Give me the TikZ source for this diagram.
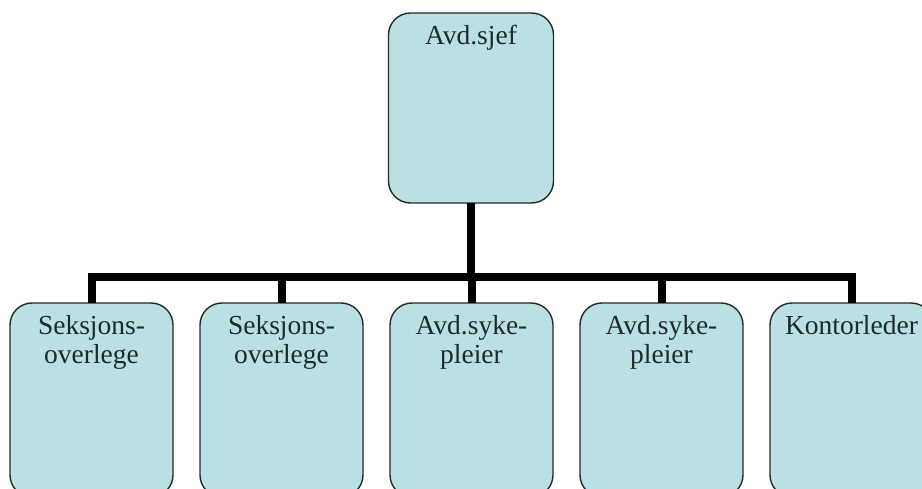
\documentclass[tikz,border=0pt]{standalone}
\usepackage{fontspec}
\setmainfont{Liberation Serif}
\usetikzlibrary{positioning}

\definecolor{boxfill}{HTML}{BAE0E4}
\definecolor{boxline}{HTML}{222A2C}
\definecolor{boxtext}{HTML}{1C2A30}

\tikzstyle{unit} = [rectangle, rounded corners=22pt, minimum width=163pt, minimum height=194pt, draw=boxline, line width=1.4pt, fill=boxfill, outer sep=0pt]
\tikzstyle{chief} = [unit, minimum width=165pt, minimum height=190pt]
\tikzstyle{title} = [anchor=north, inner sep=0pt, yshift=-12pt, align=center, text=boxtext, font=\fontsize{27.5}{29}\selectfont]
\tikzstyle{bus} = [line width=8pt, line join=miter, draw=black]

\begin{document}
\begin{tikzpicture}[x=1pt, y=-1pt, node distance=27pt]

    \clip (0,0) rectangle (922,489);
    \fill [white] (0,0) rectangle (922,489);

    \node (sjef) [chief, anchor=north, label={[title]north:Avd.sjef}] at (471,13) {};

    \node (seksjon1) [unit, anchor=north, label={[title]north:{Seksjons-\\overlege}}] at (91.5,303) {};
    \node (seksjon2) [unit, right=of seksjon1, label={[title]north:{Seksjons-\\overlege}}] {};
    \node (syke1) [unit, right=of seksjon2, label={[title]north:{Avd.syke-\\pleier}}] {};
    \node (syke2) [unit, right=of syke1, label={[title]north:{Avd.syke-\\pleier}}] {};
    \node (kontor) [unit, right=of syke2, label={[title]north:Kontorleder}] {};

    \coordinate (rail) at (0,277);

    \draw [bus] (seksjon1.north) -- (seksjon1.north |- rail) -| (kontor.north);
    \draw [bus] (sjef.south) -- (sjef.south |- rail);
    \draw [bus] (seksjon2.north) -- (seksjon2.north |- rail);
    \draw [bus] (syke1.north) -- (syke1.north |- rail);
    \draw [bus] (syke2.north) -- (syke2.north |- rail);

\end{tikzpicture}
\end{document}
